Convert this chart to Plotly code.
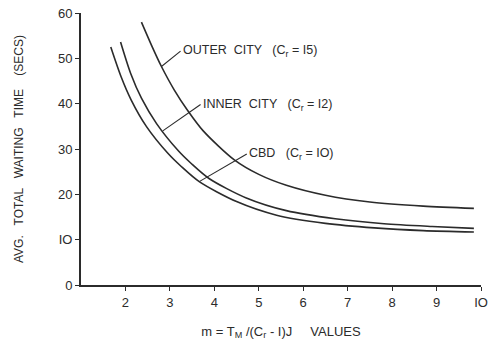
import plotly.graph_objects as go

# m values and average total waiting time (secs) for each area type
cbd_m = [1.67, 1.9, 2.13, 2.47, 2.96, 3.25, 3.66, 4.5, 5.4, 6.5, 7.6, 8.7, 9.84]
cbd_wait = [52.5, 46.0, 40.8, 35.0, 29.0, 26.2, 22.8, 18.4, 15.4, 13.6, 12.6, 12.0, 11.7]

inner_m = [1.89, 2.12, 2.36, 2.7, 3.19, 3.48, 3.88, 4.72, 5.62, 6.72, 7.82, 8.9, 9.84]
inner_wait = [53.6, 46.6, 41.2, 35.6, 29.6, 26.8, 23.5, 19.2, 16.4, 14.6, 13.5, 12.9, 12.5]

outer_m = [2.36, 2.6, 2.81, 3.1, 3.4, 3.75, 4.45, 5.0, 5.62, 6.5, 7.5, 8.7, 9.84]
outer_wait = [58.0, 52.6, 48.2, 43.0, 38.5, 34.0, 27.6, 24.4, 22.0, 19.8, 18.3, 17.4, 16.9]

x_ticks = [2, 3, 4, 5, 6, 7, 8, 9, 10]
x_tick_text = ["2", "3", "4", "5", "6", "7", "8", "9", "IO"]
y_ticks = [0, 10, 20, 30, 40, 50, 60]
y_tick_text = ["0", "IO", "20", "30", "40", "50", "60"]

# label text, anchor point on curve (m, wait), and text position (m, wait)
labels = [
    ("OUTER  CITY   (C<sub>r</sub> = I5)", (2.81, 48.2), (3.24, 51.6)),
    ("INNER  CITY   (C<sub>r</sub> = I2)", (2.84, 34.0), (3.69, 39.8)),
    ("CBD   (C<sub>r</sub> = IO)", (3.66, 22.8), (4.73, 28.9)),
]

ink = "#2b2b2b"
font = "Liberation Sans, Arial, sans-serif"

fig = go.Figure()
for xs, ys in [(cbd_m, cbd_wait), (inner_m, inner_wait), (outer_m, outer_wait)]:
    fig.add_trace(go.Scatter(
        x=xs, y=ys, mode="lines",
        line=dict(color=ink, width=1.6, shape="spline", smoothing=0.8),
        showlegend=False, hoverinfo="skip",
    ))

for text, (px, py), (tx, ty) in labels:
    fig.add_shape(type="line", x0=px, y0=py, x1=tx, y1=ty,
                  line=dict(color=ink, width=1.1))
    fig.add_annotation(x=tx, y=ty, text=text, showarrow=False,
                       xanchor="left", yanchor="middle",
                       font=dict(family=font, size=12.5, color=ink))

fig.update_layout(
    width=494, height=343,
    margin=dict(l=81, r=6, t=13, b=58),
    paper_bgcolor="white", plot_bgcolor="white",
    font=dict(family=font, size=13, color=ink),
    xaxis=dict(
        range=[1, 10], tickmode="array", tickvals=x_ticks, ticktext=x_tick_text,
        showgrid=False, zeroline=False, showline=True, linecolor=ink, linewidth=2,
        ticks="outside", ticklen=4, tickcolor=ink, tickfont=dict(size=13),
        ticklabeloverflow="allow",
        title=dict(text="m = T<sub>M</sub> /(C<sub>r</sub> - I)J     VALUES",
                   font=dict(size=13), standoff=18),
    ),
    yaxis=dict(
        range=[0, 60], tickmode="array", tickvals=y_ticks, ticktext=y_tick_text,
        showgrid=False, zeroline=False, showline=True, linecolor=ink, linewidth=2,
        ticks="outside", ticklen=4, tickcolor=ink, tickfont=dict(size=13),
        title=dict(text="AVG.   TOTAL   WAITING   TIME    (SECS)",
                   font=dict(size=12), standoff=32),
    ),
)

fig.write_html("out.html")
